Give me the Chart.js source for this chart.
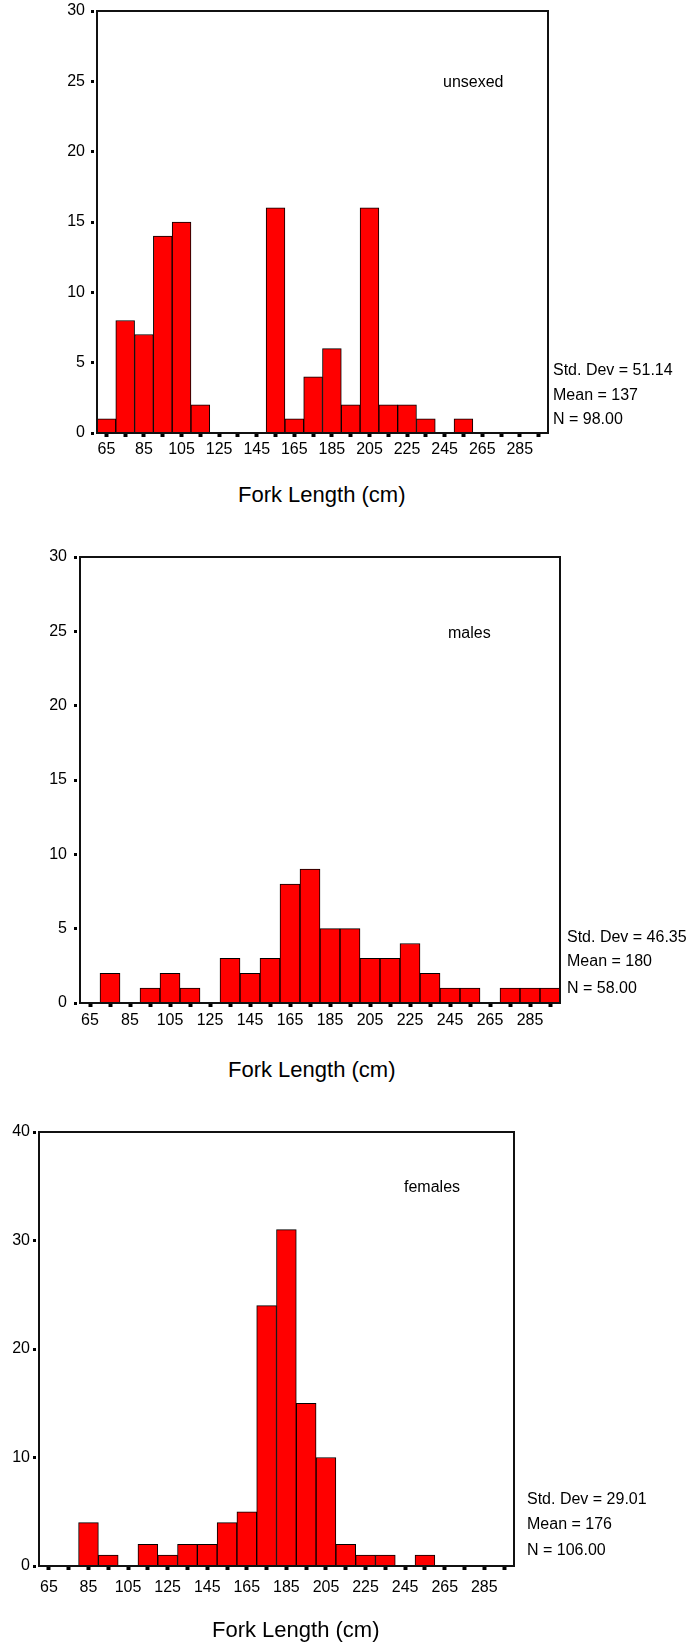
<!DOCTYPE html>
<html>
<head>
<meta charset="utf-8">
<title>Fork length histograms</title>
<script src="https://cdn.jsdelivr.net/npm/chart.js"></script>
<style>
  body { margin: 0; background: #fff; font-family: "Liberation Sans", Arial, sans-serif; }
  #page { position: relative; width: 700px; height: 1644px; overflow: hidden; }
  .panel { position: absolute; left: 0; width: 700px; }
  .note { position: absolute; font-size: 16px; line-height: 18px; color: #000; white-space: nowrap; }
  .axis-title { position: absolute; font-size: 22px; line-height: 26px; color: #000; white-space: nowrap; }
</style>
</head>
<body>
<div id="page">
  <div class="panel" style="top:-20px"><canvas id="chart-unsexed" width="700" height="500"></canvas></div>
  <div class="panel" style="top:520px"><canvas id="chart-males" width="700" height="520"></canvas></div>
  <div class="panel" style="top:1100px"><canvas id="chart-females" width="700" height="520"></canvas></div>
</div>
<script>
// bin centres (cm) and which of them get a label
const bins = [65, 75, 85, 95, 105, 115, 125, 135, 145, 155, 165, 175, 185, 195, 205, 215, 225, 235, 245, 255, 265, 275, 285, 295];
const tickLabels = [65, 85, 105, 125, 145, 165, 185, 205, 225, 245, 265, 285];

const unsexedCounts = [1, 8, 7, 14, 15, 2, 0, 0, 0, 16, 1, 4, 6, 2, 16, 2, 2, 1, 0, 1, 0, 0, 0, 0];
const maleCounts = [0, 2, 0, 1, 2, 1, 0, 3, 2, 3, 8, 9, 5, 5, 3, 3, 4, 2, 1, 1, 0, 1, 1, 1];
const femaleCounts = [0, 0, 4, 1, 0, 2, 1, 2, 2, 4, 5, 24, 31, 15, 10, 2, 1, 1, 0, 1, 0, 0, 0, 0];

const unsexedStats = ["Std. Dev = 51.14", "Mean = 137", "N = 98.00"];
const maleStats = ["Std. Dev = 46.35", "Mean = 180", "N = 58.00"];
const femaleStats = ["Std. Dev = 29.01", "Mean = 176", "N = 106.00"];

const xTitle = "Fork Length (cm)";

Chart.defaults.font.family = '"Liberation Sans", Arial, sans-serif';
Chart.defaults.font.size = 16;
Chart.defaults.color = "#000";

// closes the plot frame on top and right
const boxBorder = {
    id: "boxBorder",
    afterDraw(chart) {
        let a = chart.chartArea
        let ctx = chart.ctx
        ctx.save()
        ctx.strokeStyle = "#111"
        ctx.lineWidth = 2
        ctx.strokeRect(a.left, a.top, a.right - a.left, a.bottom - a.top)
        ctx.restore()
    }
};

function makeHistogram(id, counts, yMax, yStep, yPad, xPad) {
    let pad = {left: 0, top: 20, right: 100, bottom: 20}
    return new Chart(document.getElementById(id), {
        type: "bar",
        data: {
            labels: bins,
            datasets: [{
                data: counts,
                backgroundColor: "#ff0000",
                borderColor: "#000",
                borderWidth: 1,
                barPercentage: 1,
                categoryPercentage: 1
            }]
        },
        options: {
            responsive: false,
            animation: false,
            layout: {padding: pad},
            plugins: {legend: {display: false}, tooltip: {enabled: false}},
            scales: {
                x: {
                    grid: {display: true, offset: false, drawOnChartArea: false, drawTicks: true,
                           tickLength: 4, tickWidth: 4, tickColor: "#000"},
                    border: {display: true, color: "#111", width: 2},
                    ticks: {
                        autoSkip: false, maxRotation: 0, padding: xPad,
                        callback: function (v, i) {
                            return tickLabels.includes(bins[i]) ? String(bins[i]) : ""
                        }
                    }
                },
                y: {
                    min: 0, max: yMax,
                    grid: {drawOnChartArea: false, tickLength: 6, tickWidth: 3, tickColor: "#000",
                           tickBorderDash: [3, 5]},
                    border: {display: true, color: "#111", width: 2},
                    ticks: {stepSize: yStep, padding: yPad}
                }
            }
        },
        plugins: [boxBorder]
    });
}

// nudge the layout padding until the plot box sits where we want it
function fitArea(chart, box) {
    let pad = chart.config.options.layout.padding
    for (let i = 0; i < 4; i++) {
        let a = chart.chartArea
        pad.left += box.left - a.left
        pad.top += box.top - a.top
        pad.right += a.right - box.right
        pad.bottom += a.bottom - box.bottom
        chart.update("none")
    }
}

function addText(cls, text, left, centerY, half) {
    let div = document.createElement("div")
    div.className = cls
    div.textContent = text
    div.style.left = left + "px"
    div.style.top = (centerY - half) + "px"
    document.getElementById("page").appendChild(div)
}

function buildPanel(id, counts, stats, name, yMax, yStep, yPad, xPad, panelTop, box, nameAt, statsAt, titleAt) {
    let chart = makeHistogram(id, counts, yMax, yStep, yPad, xPad)
    fitArea(chart, {left: box[0], top: box[1] - panelTop, right: box[2], bottom: box[3] - panelTop})
    addText("note", name, nameAt[0], nameAt[1], 9)
    for (let i = 0; i < stats.length; i++) {
        addText("note", stats[i], statsAt[0], statsAt[1][i], 9)
    }
    addText("axis-title", xTitle, titleAt[0], titleAt[1], 13)
}

buildPanel("chart-unsexed", unsexedCounts, unsexedStats, "unsexed", 30, 5, 6, 3,
    -20, [97, 11, 548, 433], [443, 82], [553, [370, 395, 419]], [238, 495]);

buildPanel("chart-males", maleCounts, maleStats, "males", 30, 5, 7, 4,
    520, [80, 557, 560, 1003], [448, 633], [567, [937, 961, 988]], [228, 1070]);

buildPanel("chart-females", femaleCounts, femaleStats, "females", 40, 10, 3, 8,
    1100, [39, 1132, 514, 1566], [404, 1187], [527, [1499, 1524, 1550]], [212, 1630]);
</script>
</body>
</html>
